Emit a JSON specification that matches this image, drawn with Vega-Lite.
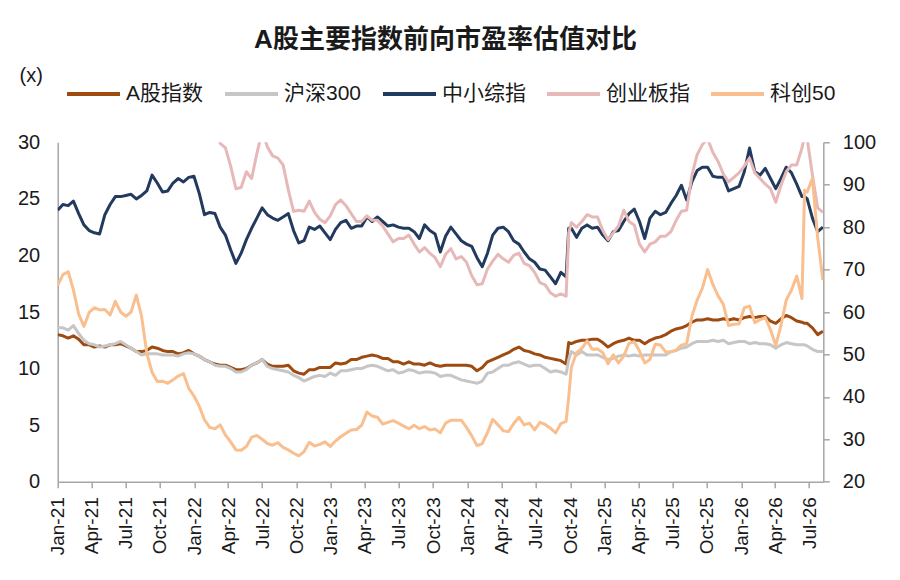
{
  "$schema": "https://vega.github.io/schema/vega-lite/v6.json",
  "autosize": {"type": "none"},
  "width": 765.6,
  "height": 339.4,
  "padding": {"left": 57.7, "top": 142.3, "right": 76.7, "bottom": 98.3},
  "background": "white",
  "config": {
    "font": "Liberation Sans, Noto Sans CJK SC",
    "view": {"stroke": null},
    "axis": {
      "grid": false,
      "domainColor": "#A6A6A6",
      "domainWidth": 1.5,
      "tickColor": "#A6A6A6",
      "tickWidth": 1.5,
      "labelColor": "#1a1a1a",
      "labelFont": "Liberation Sans, Noto Sans CJK SC",
      "titleFont": "Liberation Sans, Noto Sans CJK SC"
    }
  },
  "title": {
    "text": "A股主要指数前向市盈率估值对比",
    "font": "Liberation Sans, Noto Sans CJK SC",
    "fontSize": 26,
    "fontWeight": "bold",
    "color": "#1a1a1a",
    "anchor": "middle",
    "frame": "group",
    "dx": 5,
    "dy": -8
  },
  "data": {
    "values": [
      {"d": "2021-01-01", "a": 13.0, "h": 13.6, "z": 24.0, "c": 45, "k": 66.3},
      {"d": "2021-01-15", "a": 12.9, "h": 13.6, "z": 24.5, "c": 47, "k": 68.8},
      {"d": "2021-01-29", "a": 12.7, "h": 13.4, "z": 24.4, "c": 50, "k": 69.5},
      {"d": "2021-02-12", "a": 12.9, "h": 13.8, "z": 24.8, "c": 52, "k": 65.2},
      {"d": "2021-02-26", "a": 12.6, "h": 13.1, "z": 23.7, "c": 46, "k": 59.5},
      {"d": "2021-03-12", "a": 12.1, "h": 12.5, "z": 22.7, "c": 43, "k": 56.6},
      {"d": "2021-03-26", "a": 12.1, "h": 12.2, "z": 22.2, "c": 44, "k": 59.9},
      {"d": "2021-04-09", "a": 11.9, "h": 12.1, "z": 22.0, "c": 45, "k": 61.0},
      {"d": "2021-04-23", "a": 12.0, "h": 11.9, "z": 21.9, "c": 46, "k": 60.5},
      {"d": "2021-05-07", "a": 11.9, "h": 12.0, "z": 23.6, "c": 47, "k": 60.6},
      {"d": "2021-05-21", "a": 12.1, "h": 12.1, "z": 24.5, "c": 48, "k": 59.3},
      {"d": "2021-06-04", "a": 12.1, "h": 12.2, "z": 25.2, "c": 50, "k": 62.5},
      {"d": "2021-06-18", "a": 12.2, "h": 12.4, "z": 25.2, "c": 52, "k": 60.0},
      {"d": "2021-07-02", "a": 12.0, "h": 12.1, "z": 25.3, "c": 53, "k": 59.0},
      {"d": "2021-07-16", "a": 11.8, "h": 11.8, "z": 25.4, "c": 51, "k": 60.0},
      {"d": "2021-07-30", "a": 11.5, "h": 11.5, "z": 25.0, "c": 50, "k": 64.0},
      {"d": "2021-08-13", "a": 11.5, "h": 11.2, "z": 25.3, "c": 49, "k": 59.0},
      {"d": "2021-08-27", "a": 11.6, "h": 11.3, "z": 25.7, "c": 47, "k": 50.3},
      {"d": "2021-09-10", "a": 11.9, "h": 11.3, "z": 27.1, "c": 46, "k": 45.8},
      {"d": "2021-09-24", "a": 11.8, "h": 11.3, "z": 26.4, "c": 44, "k": 43.6},
      {"d": "2021-10-08", "a": 11.6, "h": 11.2, "z": 25.6, "c": 45, "k": 43.7},
      {"d": "2021-10-22", "a": 11.5, "h": 11.2, "z": 25.7, "c": 46, "k": 43.2},
      {"d": "2021-11-05", "a": 11.5, "h": 11.2, "z": 26.4, "c": 47, "k": 44.0},
      {"d": "2021-11-19", "a": 11.3, "h": 11.1, "z": 26.8, "c": 46, "k": 44.9},
      {"d": "2021-12-03", "a": 11.4, "h": 11.3, "z": 26.5, "c": 45, "k": 45.5},
      {"d": "2021-12-17", "a": 11.6, "h": 11.4, "z": 26.9, "c": 44, "k": 42.0},
      {"d": "2021-12-31", "a": 11.3, "h": 11.3, "z": 27.0, "c": 43, "k": 40.2},
      {"d": "2022-01-14", "a": 11.1, "h": 11.1, "z": 25.5, "c": 40, "k": 37.8},
      {"d": "2022-01-28", "a": 10.8, "h": 10.8, "z": 23.6, "c": 37, "k": 34.6},
      {"d": "2022-02-11", "a": 10.6, "h": 10.6, "z": 23.8, "c": 35, "k": 32.8},
      {"d": "2022-02-25", "a": 10.4, "h": 10.3, "z": 23.7, "c": 33, "k": 32.5},
      {"d": "2022-03-11", "a": 10.3, "h": 10.2, "z": 22.5, "c": 29.9, "k": 33.4},
      {"d": "2022-03-25", "a": 10.3, "h": 10.2, "z": 21.8, "c": 29.5, "k": 31.0},
      {"d": "2022-04-08", "a": 10.1, "h": 10.0, "z": 20.5, "c": 27.9, "k": 29.4},
      {"d": "2022-04-22", "a": 9.9, "h": 9.7, "z": 19.3, "c": 25.9, "k": 27.5},
      {"d": "2022-05-06", "a": 9.9, "h": 9.7, "z": 20.2, "c": 26.0, "k": 27.4},
      {"d": "2022-05-20", "a": 10.0, "h": 9.9, "z": 21.4, "c": 27.4, "k": 28.3},
      {"d": "2022-06-03", "a": 10.3, "h": 10.3, "z": 22.4, "c": 26.8, "k": 30.5},
      {"d": "2022-06-17", "a": 10.5, "h": 10.5, "z": 23.3, "c": 29.0, "k": 30.9},
      {"d": "2022-07-01", "a": 10.8, "h": 10.8, "z": 24.2, "c": 31.0, "k": 30.0},
      {"d": "2022-07-15", "a": 10.4, "h": 10.2, "z": 23.6, "c": 29.6, "k": 29.0},
      {"d": "2022-07-29", "a": 10.2, "h": 10.0, "z": 23.3, "c": 28.8, "k": 28.6},
      {"d": "2022-08-12", "a": 10.2, "h": 9.9, "z": 23.1, "c": 28.6, "k": 29.2},
      {"d": "2022-08-26", "a": 10.2, "h": 9.8, "z": 23.4, "c": 28.0, "k": 28.1},
      {"d": "2022-09-09", "a": 10.3, "h": 9.7, "z": 23.7, "c": 25.8, "k": 27.5},
      {"d": "2022-09-23", "a": 9.8, "h": 9.4, "z": 22.2, "c": 23.9, "k": 26.7},
      {"d": "2022-10-07", "a": 9.6, "h": 9.2, "z": 21.1, "c": 24.0, "k": 26.1},
      {"d": "2022-10-21", "a": 9.5, "h": 8.9, "z": 21.3, "c": 23.9, "k": 27.1},
      {"d": "2022-11-04", "a": 9.9, "h": 9.1, "z": 22.5, "c": 24.8, "k": 29.3},
      {"d": "2022-11-18", "a": 9.9, "h": 9.3, "z": 22.3, "c": 23.8, "k": 28.4},
      {"d": "2022-12-02", "a": 10.1, "h": 9.4, "z": 22.6, "c": 23.2, "k": 28.8},
      {"d": "2022-12-16", "a": 10.1, "h": 9.3, "z": 22.0, "c": 22.9, "k": 29.4},
      {"d": "2022-12-30", "a": 10.1, "h": 9.6, "z": 21.4, "c": 23.5, "k": 28.3},
      {"d": "2023-01-13", "a": 10.5, "h": 9.4, "z": 22.3, "c": 24.5, "k": 29.6},
      {"d": "2023-01-27", "a": 10.4, "h": 9.8, "z": 22.9, "c": 24.9, "k": 30.6},
      {"d": "2023-02-10", "a": 10.5, "h": 9.8, "z": 23.1, "c": 24.4, "k": 31.4},
      {"d": "2023-02-24", "a": 10.8, "h": 9.9, "z": 22.4, "c": 23.7, "k": 32.2},
      {"d": "2023-03-10", "a": 10.8, "h": 10.0, "z": 22.6, "c": 23.0, "k": 32.3},
      {"d": "2023-03-24", "a": 11.0, "h": 10.0, "z": 22.6, "c": 23.0, "k": 33.3},
      {"d": "2023-04-07", "a": 11.1, "h": 10.2, "z": 23.4, "c": 23.5, "k": 36.4},
      {"d": "2023-04-21", "a": 11.2, "h": 10.3, "z": 23.0, "c": 23.1, "k": 35.5},
      {"d": "2023-05-05", "a": 11.1, "h": 10.2, "z": 23.4, "c": 23.1, "k": 35.2},
      {"d": "2023-05-19", "a": 10.9, "h": 10.0, "z": 23.0, "c": 22.6, "k": 33.6},
      {"d": "2023-06-02", "a": 10.9, "h": 9.8, "z": 22.6, "c": 21.9, "k": 34.0},
      {"d": "2023-06-16", "a": 10.6, "h": 9.9, "z": 22.7, "c": 21.2, "k": 34.4},
      {"d": "2023-06-30", "a": 10.6, "h": 9.6, "z": 22.5, "c": 21.5, "k": 33.8},
      {"d": "2023-07-14", "a": 10.4, "h": 9.7, "z": 22.4, "c": 21.5, "k": 33.1},
      {"d": "2023-07-28", "a": 10.6, "h": 9.9, "z": 22.4, "c": 21.8, "k": 32.5},
      {"d": "2023-08-11", "a": 10.4, "h": 9.8, "z": 22.1, "c": 21.0, "k": 33.3},
      {"d": "2023-08-25", "a": 10.4, "h": 9.6, "z": 21.5, "c": 20.3, "k": 32.5},
      {"d": "2023-09-08", "a": 10.3, "h": 9.7, "z": 22.7, "c": 20.7, "k": 33.0},
      {"d": "2023-09-22", "a": 10.5, "h": 9.7, "z": 22.2, "c": 20.2, "k": 32.2},
      {"d": "2023-10-06", "a": 10.3, "h": 9.6, "z": 21.9, "c": 19.8, "k": 32.4},
      {"d": "2023-10-20", "a": 10.2, "h": 9.3, "z": 20.3, "c": 19.0, "k": 31.5},
      {"d": "2023-11-03", "a": 10.3, "h": 9.4, "z": 21.7, "c": 20.1, "k": 33.8},
      {"d": "2023-11-17", "a": 10.3, "h": 9.4, "z": 22.5, "c": 20.6, "k": 34.5},
      {"d": "2023-12-01", "a": 10.3, "h": 9.2, "z": 21.9, "c": 19.7, "k": 34.5},
      {"d": "2023-12-15", "a": 10.3, "h": 9.0, "z": 21.3, "c": 19.9, "k": 34.5},
      {"d": "2023-12-29", "a": 10.3, "h": 8.9, "z": 21.0, "c": 19.4, "k": 32.8},
      {"d": "2024-01-12", "a": 10.2, "h": 8.8, "z": 20.8, "c": 18.2, "k": 30.8},
      {"d": "2024-01-26", "a": 9.8, "h": 8.7, "z": 19.8, "c": 17.4, "k": 28.5},
      {"d": "2024-02-09", "a": 10.1, "h": 8.9, "z": 19.0, "c": 17.5, "k": 29.0},
      {"d": "2024-02-23", "a": 10.6, "h": 9.6, "z": 20.2, "c": 18.8, "k": 31.6},
      {"d": "2024-03-08", "a": 10.8, "h": 9.7, "z": 21.8, "c": 19.5, "k": 34.7},
      {"d": "2024-03-22", "a": 11.0, "h": 10.0, "z": 22.4, "c": 20.1, "k": 33.4},
      {"d": "2024-04-05", "a": 11.2, "h": 10.3, "z": 22.5, "c": 19.7, "k": 32.0},
      {"d": "2024-04-19", "a": 11.4, "h": 10.3, "z": 22.1, "c": 19.4, "k": 31.8},
      {"d": "2024-05-03", "a": 11.7, "h": 10.5, "z": 21.3, "c": 20.0, "k": 33.7},
      {"d": "2024-05-17", "a": 11.9, "h": 10.6, "z": 21.0, "c": 20.2, "k": 35.2},
      {"d": "2024-05-31", "a": 11.6, "h": 10.4, "z": 20.3, "c": 19.3, "k": 33.4},
      {"d": "2024-06-14", "a": 11.5, "h": 10.2, "z": 19.7, "c": 19.1, "k": 33.8},
      {"d": "2024-06-28", "a": 11.3, "h": 10.3, "z": 19.4, "c": 18.5, "k": 32.2},
      {"d": "2024-07-12", "a": 11.2, "h": 10.3, "z": 18.8, "c": 17.6, "k": 34.0},
      {"d": "2024-07-26", "a": 11.0, "h": 10.0, "z": 18.7, "c": 17.4, "k": 33.5},
      {"d": "2024-08-09", "a": 10.9, "h": 9.7, "z": 18.1, "c": 16.7, "k": 32.6},
      {"d": "2024-08-23", "a": 10.8, "h": 9.8, "z": 17.5, "c": 16.4, "k": 31.5},
      {"d": "2024-09-06", "a": 10.7, "h": 9.7, "z": 18.5, "c": 16.6, "k": 33.7},
      {"d": "2024-09-20", "a": 10.4, "h": 9.5, "z": 18.1, "c": 16.4, "k": 34.2},
      {"d": "2024-09-27", "a": 12.3, "h": 10.8, "z": 22.4, "c": 22.0, "k": 40.0},
      {"d": "2024-10-04", "a": 12.2, "h": 11.5, "z": 22.4, "c": 22.9, "k": 47.0},
      {"d": "2024-10-18", "a": 12.4, "h": 11.2, "z": 21.6, "c": 22.5, "k": 50.4},
      {"d": "2024-11-01", "a": 12.5, "h": 11.5, "z": 22.4, "c": 23.0, "k": 51.4},
      {"d": "2024-11-15", "a": 12.5, "h": 11.2, "z": 22.7, "c": 23.6, "k": 53.2},
      {"d": "2024-11-29", "a": 12.6, "h": 11.2, "z": 22.4, "c": 23.4, "k": 51.2},
      {"d": "2024-12-13", "a": 12.6, "h": 11.2, "z": 22.5, "c": 23.4, "k": 51.3},
      {"d": "2024-12-27", "a": 12.3, "h": 11.0, "z": 21.8, "c": 22.2, "k": 50.4},
      {"d": "2025-01-10", "a": 11.9, "h": 10.8, "z": 21.3, "c": 21.4, "k": 47.8},
      {"d": "2025-01-24", "a": 12.2, "h": 10.9, "z": 22.1, "c": 22.0, "k": 49.9},
      {"d": "2025-02-07", "a": 12.4, "h": 11.1, "z": 22.2, "c": 22.6, "k": 48.0},
      {"d": "2025-02-21", "a": 12.5, "h": 11.2, "z": 23.0, "c": 24.0, "k": 49.6},
      {"d": "2025-03-07", "a": 12.7, "h": 11.1, "z": 23.7, "c": 23.0, "k": 52.6},
      {"d": "2025-03-21", "a": 12.5, "h": 11.2, "z": 24.1, "c": 22.7, "k": 53.0},
      {"d": "2025-04-04", "a": 12.5, "h": 11.1, "z": 23.0, "c": 21.0, "k": 50.8},
      {"d": "2025-04-18", "a": 12.2, "h": 11.2, "z": 21.5, "c": 20.3, "k": 48.0},
      {"d": "2025-05-02", "a": 12.5, "h": 11.2, "z": 23.3, "c": 21.0, "k": 48.8},
      {"d": "2025-05-16", "a": 12.7, "h": 11.2, "z": 23.9, "c": 21.2, "k": 52.4},
      {"d": "2025-05-30", "a": 12.8, "h": 11.2, "z": 23.6, "c": 21.7, "k": 52.2},
      {"d": "2025-06-13", "a": 13.0, "h": 11.2, "z": 23.8, "c": 21.7, "k": 50.6},
      {"d": "2025-06-27", "a": 13.3, "h": 11.5, "z": 24.6, "c": 22.1, "k": 50.6},
      {"d": "2025-07-11", "a": 13.5, "h": 11.6, "z": 25.3, "c": 23.1, "k": 51.0},
      {"d": "2025-07-25", "a": 13.6, "h": 11.8, "z": 26.2, "c": 23.9, "k": 52.2},
      {"d": "2025-08-08", "a": 13.8, "h": 11.9, "z": 24.9, "c": 24.0, "k": 52.5},
      {"d": "2025-08-22", "a": 14.1, "h": 12.2, "z": 26.5, "c": 27.1, "k": 59.0},
      {"d": "2025-09-05", "a": 14.3, "h": 12.4, "z": 27.5, "c": 28.9, "k": 62.8},
      {"d": "2025-09-19", "a": 14.3, "h": 12.4, "z": 27.8, "c": 29.8, "k": 65.6},
      {"d": "2025-10-03", "a": 14.4, "h": 12.4, "z": 27.8, "c": 30.3, "k": 70.0},
      {"d": "2025-10-17", "a": 14.3, "h": 12.5, "z": 27.0, "c": 29.1, "k": 66.5},
      {"d": "2025-10-31", "a": 14.3, "h": 12.4, "z": 26.9, "c": 28.3, "k": 63.8},
      {"d": "2025-11-14", "a": 14.4, "h": 12.5, "z": 26.9, "c": 27.2, "k": 61.8},
      {"d": "2025-11-28", "a": 14.3, "h": 12.2, "z": 25.7, "c": 26.5, "k": 56.8},
      {"d": "2025-12-12", "a": 14.4, "h": 12.3, "z": 25.9, "c": 26.9, "k": 57.1},
      {"d": "2025-12-26", "a": 14.3, "h": 12.4, "z": 26.1, "c": 27.3, "k": 57.2},
      {"d": "2026-01-09", "a": 14.5, "h": 12.4, "z": 27.4, "c": 27.9, "k": 61.0},
      {"d": "2026-01-23", "a": 14.6, "h": 12.2, "z": 29.5, "c": 28.6, "k": 61.4},
      {"d": "2026-02-06", "a": 14.5, "h": 12.3, "z": 27.4, "c": 27.3, "k": 57.5},
      {"d": "2026-02-20", "a": 14.6, "h": 12.2, "z": 27.1, "c": 26.8, "k": 58.2},
      {"d": "2026-03-06", "a": 14.6, "h": 12.2, "z": 27.7, "c": 26.3, "k": 58.7},
      {"d": "2026-03-20", "a": 14.2, "h": 12.1, "z": 26.8, "c": 25.9, "k": 55.8},
      {"d": "2026-04-03", "a": 14.0, "h": 11.8, "z": 25.9, "c": 24.7, "k": 52.1},
      {"d": "2026-04-17", "a": 14.4, "h": 12.1, "z": 26.8, "c": 26.2, "k": 56.9},
      {"d": "2026-05-01", "a": 14.7, "h": 12.3, "z": 27.8, "c": 27.4, "k": 62.8},
      {"d": "2026-05-15", "a": 14.5, "h": 12.2, "z": 27.3, "c": 28.0, "k": 65.2},
      {"d": "2026-05-29", "a": 14.2, "h": 12.1, "z": 26.3, "c": 28.0, "k": 68.5},
      {"d": "2026-06-12", "a": 14.1, "h": 12.1, "z": 25.2, "c": 29.5, "k": 63.2},
      {"d": "2026-06-19", "a": 14.0, "h": 12.1, "z": 25.2, "c": 30.5, "k": 88.7},
      {"d": "2026-06-26", "a": 14.0, "h": 12.0, "z": 25.0, "c": 30.3, "k": 88.3},
      {"d": "2026-07-10", "a": 13.6, "h": 11.7, "z": 23.3, "c": 27.1, "k": 91.5},
      {"d": "2026-07-24", "a": 13.0, "h": 11.5, "z": 22.1, "c": 24.2, "k": 77.5},
      {"d": "2026-08-07", "a": 13.3, "h": 11.5, "z": 22.5, "c": 23.8, "k": 67.5}
    ]
  },
  "transform": [
    {"fold": ["a", "h", "z", "c", "k"], "as": ["s", "v"]}
  ],
  "encoding": {
    "x": {
      "field": "d",
      "type": "temporal",
      "scale": {
        "type": "utc",
        "domain": [
          {"year": 2021, "month": 1, "date": 1, "utc": true},
          {"year": 2026, "month": 8, "date": 8, "utc": true}
        ]
      },
      "axis": {
        "title": null,
        "format": "%b-%y",
        "tickCount": {"interval": "month", "step": 3},
        "labelAngle": -90,
        "labelFontSize": 19,
        "tickSize": 6,
        "labelPadding": 9,
        "labelOverlap": false,
        "labelFlush": false
      }
    },
    "color": {
      "field": "s",
      "type": "nominal",
      "scale": {
        "domain": ["a", "h", "z", "c", "k"],
        "range": ["#9E4B12", "#C6C6C6", "#223A5E", "#E6B9B8", "#F9BF8F"]
      },
      "legend": {
        "title": null,
        "orient": "none",
        "direction": "horizontal",
        "legendX": 7.3,
        "legendY": -77,
        "symbolType": "stroke",
        "symbolSize": 2809,
        "symbolStrokeWidth": 4,
        "labelFontSize": 21,
        "labelColor": "#1a1a1a",
        "labelOffset": 4,
        "columnPadding": 13,
        "labelExpr": "{'a': 'A股指数', 'h': '沪深300', 'z': '中小综指', 'c': '创业板指', 'k': '科创50'}[datum.label]"
      }
    }
  },
  "layer": [
    {
      "transform": [{"filter": "datum.s != 'k'"}],
      "mark": {"type": "line", "strokeWidth": 3, "strokeJoin": "round", "clip": true},
      "encoding": {
        "y": {
          "field": "v",
          "type": "quantitative",
          "scale": {"domain": [0, 30], "nice": false, "zero": false},
          "axis": {
            "orient": "left",
            "values": [0, 5, 10, 15, 20, 25, 30],
            "ticks": false,
            "tickSize": 0,
            "labelPadding": 18,
            "labelFontSize": 20,
            "title": "(x)",
            "titleAngle": 0,
            "titleX": -38.7,
            "titleY": -67,
            "titleAlign": "left",
            "titleBaseline": "middle",
            "titleFontSize": 20,
            "titleFontWeight": "normal",
            "titleColor": "#1a1a1a"
          }
        }
      }
    },
    {
      "transform": [{"filter": "datum.s == 'k'"}],
      "mark": {"type": "line", "strokeWidth": 3, "strokeJoin": "round", "clip": true},
      "encoding": {
        "y": {
          "field": "v",
          "type": "quantitative",
          "scale": {"domain": [20, 100], "nice": false, "zero": false},
          "axis": {
            "orient": "right",
            "values": [20, 30, 40, 50, 60, 70, 80, 90, 100],
            "tickSize": 6,
            "labelPadding": 13,
            "labelFontSize": 20,
            "title": null
          }
        }
      }
    }
  ],
  "resolve": {"scale": {"y": "independent"}}
}
